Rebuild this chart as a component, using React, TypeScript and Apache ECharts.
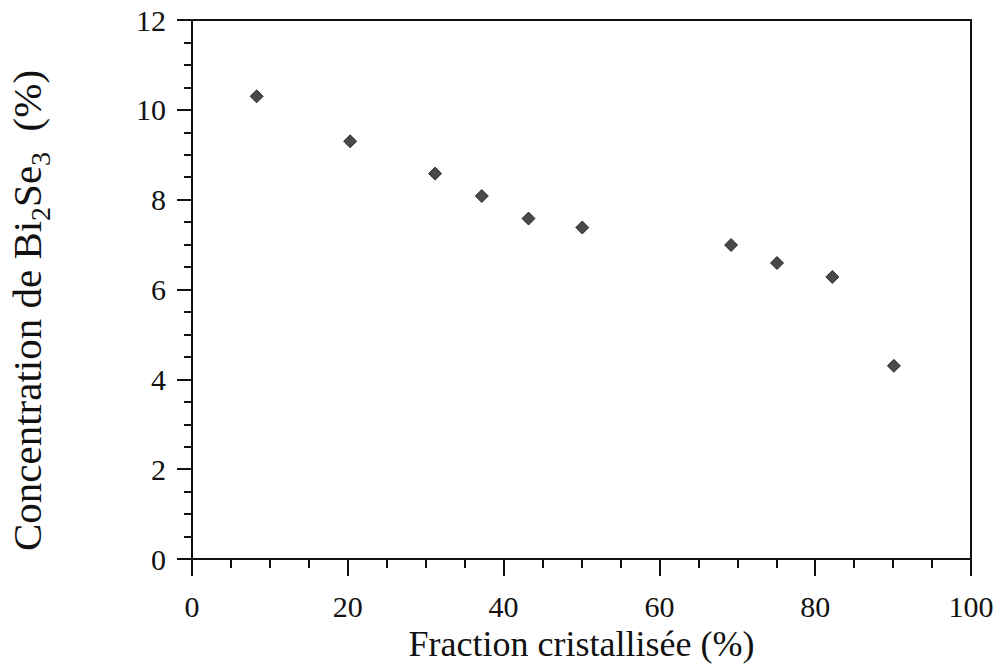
import React, { useEffect, useRef } from "react";
import * as echarts from "echarts";

const fractionCristallisee = [8.3, 20.3, 31.2, 37.2, 43.2, 50.1, 69.2, 75.1, 82.2, 90.1];
const concentrationBi2Se3 = [10.3, 9.3, 8.58, 8.08, 7.58, 7.38, 6.99, 6.59, 6.28, 4.3];
const xTicks = [0, 20, 40, 60, 80, 100];
const yTicks = [0, 2, 4, 6, 8, 10, 12];

const FONT = "'Liberation Serif', 'Times New Roman', serif";

export default function App() {
  const ref = useRef<HTMLDivElement>(null);
  useEffect(() => {
    if (!ref.current) return;
    const chart = echarts.init(ref.current, undefined, { renderer: "svg" });
    const points = fractionCristallisee.map((x, i) => [x, concentrationBi2Se3[i]]);
    chart.setOption({
      animation: false,
      backgroundColor: "#ffffff",
      grid: {
        left: 192,
        top: 20,
        right: 29,
        bottom: 106,
        show: true,
        borderColor: "#111",
        borderWidth: 2,
        containLabel: false,
        outerBoundsMode: "none",
      },
      xAxis: {
        type: "value",
        min: xTicks[0],
        max: xTicks[xTicks.length - 1],
        interval: 20,
        name: "Fraction cristallisée (%)",
        nameLocation: "middle",
        nameGap: 62,
        nameTextStyle: { fontFamily: FONT, fontSize: 36, lineHeight: 36, color: "#111" },
        axisLine: { show: true, lineStyle: { color: "#111", width: 2 } },
        axisTick: { show: true, inside: false, length: 17, lineStyle: { color: "#111", width: 2 } },
        minorTick: { show: true, splitNumber: 4, length: 9, lineStyle: { color: "#111", width: 2 } },
        splitLine: { show: false },
        axisLabel: { fontFamily: FONT, fontSize: 30, color: "#111", margin: 32 },
      },
      yAxis: {
        type: "value",
        min: yTicks[0],
        max: yTicks[yTicks.length - 1],
        interval: 2,
        name: "{n|Concentration de Bi}{s|2}{n|Se}{s|3}{n|  (%)}",
        nameLocation: "middle",
        nameRotate: 90,
        nameGap: 138,
        nameMoveOverlap: false,
        nameTextStyle: {
          fontFamily: FONT,
          fontSize: 41,
          color: "#111",
          padding: [0, 42, 0, 0],
          rich: {
            n: { fontFamily: FONT, fontSize: 41, color: "#111", lineHeight: 54, verticalAlign: "middle" },
            s: { fontFamily: FONT, fontSize: 28, color: "#111", lineHeight: 54, verticalAlign: "bottom" },
          },
        },
        axisLine: { show: true, lineStyle: { color: "#111", width: 2 } },
        axisTick: { show: true, inside: false, length: 15, lineStyle: { color: "#111", width: 2 } },
        minorTick: { show: true, splitNumber: 4, length: 8, lineStyle: { color: "#111", width: 2 } },
        splitLine: { show: false },
        axisLabel: { fontFamily: FONT, fontSize: 30, color: "#111", margin: 26 },
      },
      series: [
        {
          type: "scatter",
          data: points,
          symbol: "diamond",
          symbolSize: 13,
          itemStyle: { color: "#1c1c1c", borderColor: "#111", borderWidth: 1 },
        },
      ],
    });
    return () => chart.dispose();
  }, []);
  return <div ref={ref} style={{ width: 1000, height: 665, position: "absolute", left: 0, top: 0 }} />;
}
